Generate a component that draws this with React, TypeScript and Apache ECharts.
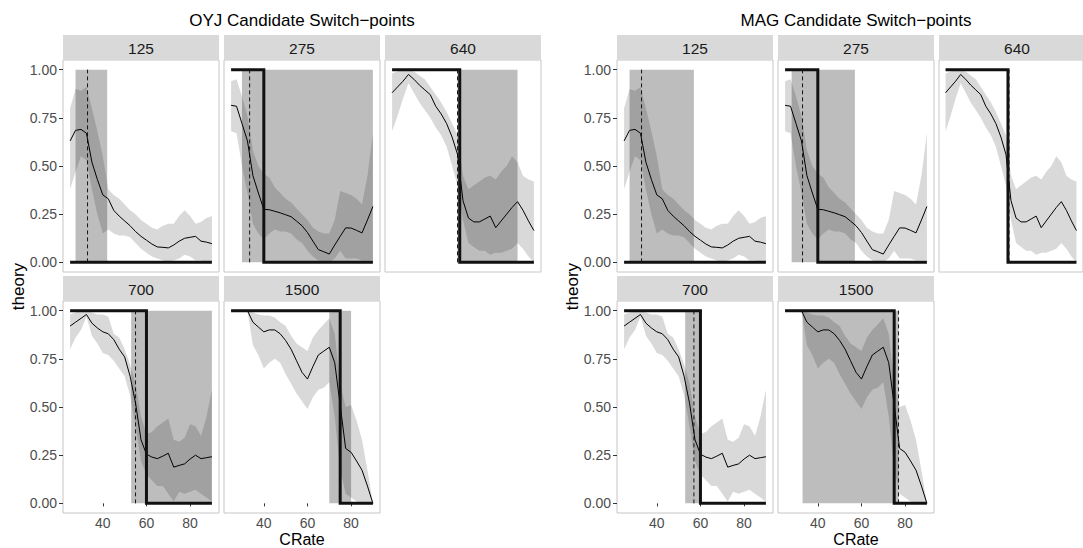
import React, { useEffect, useRef } from "react";
import * as echarts from "echarts";

// ---------- data ----------
const crate = [25, 27.5, 30, 32.5, 35, 37.5, 40, 42.5, 45, 47.5, 50, 52.5, 55, 57.5, 60, 62.5, 65, 67.5, 70, 72.5, 75, 77.5, 80, 82.5, 85, 87.5, 90];
const panelNames = ["125", "275", "640", "700", "1500"];
const yTickValues = [0, 0.25, 0.5, 0.75, 1];
const xTickValues = [40, 60, 80];

const theory125 = [0.63, 0.685, 0.69, 0.67, 0.52, 0.43, 0.35, 0.33, 0.27, 0.24, 0.215, 0.19, 0.16, 0.135, 0.115, 0.095, 0.08, 0.078, 0.075, 0.09, 0.11, 0.125, 0.13, 0.135, 0.11, 0.105, 0.097];
const lower125 = [0.38, 0.47, 0.55, 0.53, 0.38, 0.25, 0.15, 0.17, 0.15, 0.14, 0.14, 0.13, 0.1, 0.07, 0.05, 0.03, 0.02, 0.01, 0.0, 0.01, 0.02, 0.04, 0.03, 0.01, 0.01, 0.0, 0.0];
const upper125 = [0.8, 0.9, 0.89, 0.91, 0.8, 0.68, 0.55, 0.38, 0.35, 0.33, 0.3, 0.27, 0.25, 0.22, 0.2, 0.18, 0.17, 0.19, 0.2, 0.2, 0.24, 0.27, 0.24, 0.2, 0.21, 0.23, 0.24];

const theory275 = [0.815, 0.81, 0.72, 0.63, 0.45, 0.36, 0.275, 0.273, 0.265, 0.257, 0.247, 0.237, 0.214, 0.19, 0.155, 0.11, 0.066, 0.055, 0.043, 0.09, 0.135, 0.179, 0.178, 0.166, 0.153, 0.22, 0.29];
const lower275 = [0.68, 0.67, 0.5, 0.36, 0.2, 0.15, 0.12, 0.15, 0.17, 0.16, 0.16, 0.15, 0.12, 0.1, 0.06, 0.03, 0.01, 0.0, 0.0, 0.02, 0.06, 0.02, 0.02, 0.02, 0.01, 0.01, 0.01];
const upper275 = [0.94, 0.95, 0.86, 0.76, 0.58, 0.5, 0.46, 0.44, 0.39, 0.36, 0.33, 0.31, 0.28, 0.25, 0.22, 0.18, 0.16, 0.15, 0.15, 0.22, 0.37, 0.36, 0.35, 0.33, 0.3, 0.45, 0.67];

const theory640 = [0.88, 0.91, 0.94, 0.975, 0.95, 0.92, 0.895, 0.87, 0.81, 0.77, 0.72, 0.65, 0.56, 0.32, 0.23, 0.21, 0.21, 0.225, 0.24, 0.18, 0.215, 0.25, 0.285, 0.315, 0.27, 0.215, 0.165];
const lower640 = [0.68, 0.76, 0.85, 0.93, 0.88, 0.83, 0.79, 0.75, 0.7, 0.66, 0.6, 0.5, 0.4, 0.22, 0.1, 0.08, 0.06, 0.06, 0.04, 0.05, 0.05, 0.06, 0.07, 0.1, 0.07, 0.03, 0.0];
const upper640 = [0.98, 0.99, 1.0, 1.0, 0.99, 0.97, 0.95, 0.91, 0.87, 0.83, 0.78, 0.72, 0.66, 0.45, 0.38, 0.4, 0.42, 0.44, 0.45, 0.43, 0.47, 0.5, 0.55, 0.52, 0.45, 0.43, 0.42];

const theory700 = [0.92, 0.94, 0.96, 0.98, 0.935, 0.91, 0.89, 0.88, 0.85, 0.8, 0.76, 0.66, 0.52, 0.33, 0.255, 0.24, 0.232, 0.245, 0.26, 0.188, 0.197, 0.205, 0.23, 0.25, 0.232, 0.237, 0.242];
const lower700 = [0.8, 0.86, 0.9, 0.97, 0.87, 0.83, 0.78, 0.77, 0.74, 0.7, 0.66, 0.56, 0.4, 0.22, 0.15, 0.12, 0.09, 0.09, 0.05, 0.01, 0.06, 0.05, 0.06, 0.07, 0.05, 0.03, 0.01];
const upper700 = [0.98, 0.99, 1.0, 1.0, 0.99, 0.98, 0.98, 0.97, 0.88, 0.86, 0.8, 0.72, 0.62, 0.45, 0.36, 0.37, 0.4, 0.42, 0.44, 0.33, 0.32, 0.34, 0.41, 0.4, 0.35, 0.45, 0.59];

const theory1500 = [1, 1, 1, 1, 0.94, 0.915, 0.89, 0.9, 0.9, 0.88, 0.845, 0.8, 0.74, 0.68, 0.645, 0.71, 0.77, 0.79, 0.81, 0.73, 0.51, 0.285, 0.265, 0.22, 0.172, 0.09, 0.0];
const lower1500 = [1, 1, 1, 1, 0.82, 0.77, 0.7, 0.73, 0.75, 0.73, 0.67, 0.62, 0.57, 0.53, 0.49, 0.55, 0.59, 0.6, 0.63, 0.45, 0.18, 0.05, 0.03, 0.01, 0.0, 0.0, 0.0];
const upper1500 = [1, 1, 1, 1, 0.99, 0.98, 0.975, 0.975, 0.965, 0.94, 0.92, 0.87, 0.83, 0.81, 0.79, 0.86, 0.9, 0.93, 0.96, 0.88, 0.62, 0.5, 0.51, 0.43, 0.33, 0.17, 0.0];

const theoryByPanel = [theory125, theory275, theory640, theory700, theory1500];
const lowerByPanel = [lower125, lower275, lower640, lower700, lower1500];
const upperByPanel = [upper125, upper275, upper640, upper700, upper1500];

// OYJ candidate switch-points
const oyjRectStart = [27.5, 30, 55, 53, 70];
const oyjRectEnd = [42, 90, 82.5, 90, 80];
const oyjDashed = [33, 33.5, 55, 55, 75];
const oyjSwitch = [null, 40, 56, 60, 75];

// MAG candidate switch-points
const magRectStart = [27.5, 28, 55.5, 53, 33];
const magRectEnd = [57, 57, 56.5, 60, 77];
const magDashed = [33, 33, 56.5, 57, 77];
const magSwitch = [null, 40, 56, 60, 75];

// ---------- layout ----------
const FONT = '"Liberation Sans", Arial, Helvetica, sans-serif';
const PW = 156;
const PH = 212;
const ROW_TOP = [60, 301];
const STRIP_H = 25;

const plots = [
  { title: "OYJ Candidate Switch\u2212points", lefts: [63, 224, 385], rectStart: oyjRectStart, rectEnd: oyjRectEnd, dashed: oyjDashed, sw: oyjSwitch },
  { title: "MAG Candidate Switch\u2212points", lefts: [617, 778, 939], rectStart: magRectStart, rectEnd: magRectEnd, dashed: magDashed, sw: magSwitch },
];

const centerText = (fill: string, font: string) => ({
  fill, font, align: "center", verticalAlign: "middle", textAlign: "center", textVerticalAlign: "middle",
});

function buildOption() {
  const grid: any[] = [];
  const xAxis: any[] = [];
  const yAxis: any[] = [];
  const series: any[] = [];
  const graphic: any[] = [];

  plots.forEach((plot, p) => {
    const plotLeft = plot.lefts[0];
    const plotRight = plot.lefts[2] + PW;
    const center = (plotLeft + plotRight) / 2;
    graphic.push({
      type: "text", x: center, y: 20, silent: true,
      style: { text: plot.title, ...centerText("#000", `17px ${FONT}`) },
    });
    graphic.push({
      type: "text", x: plotLeft - 45, y: (ROW_TOP[0] + ROW_TOP[1] + PH) / 2, rotation: Math.PI / 2, silent: true,
      style: { text: "theory", ...centerText("#000", `17px ${FONT}`) },
    });
    graphic.push({
      type: "text", x: center, y: 539.5, silent: true,
      style: { text: "CRate", ...centerText("#000", `16px ${FONT}`) },
    });

    panelNames.forEach((name, k) => {
      const gi = p * 5 + k;
      const row = k < 3 ? 0 : 1;
      const col = k < 3 ? k : k - 3;
      const left = plot.lefts[col];
      const top = ROW_TOP[row];

      graphic.push({
        type: "rect", silent: true,
        shape: { x: left, y: top - STRIP_H, width: PW, height: STRIP_H },
        style: { fill: "#d9d9d9" },
      });
      graphic.push({
        type: "text", x: left + PW / 2, y: top - STRIP_H / 2 + 0.5, silent: true,
        style: { text: name, ...centerText("#1a1a1a", `15.5px ${FONT}`) },
      });

      grid.push({
        left, top, width: PW, height: PH, show: true,
        backgroundColor: "#ffffff", borderColor: "#c6c6c6", borderWidth: 1,
      });
      xAxis.push({
        type: "value", gridIndex: gi, min: 21.75, max: 93.25,
        axisLine: { show: false }, splitLine: { show: false },
        axisTick: { show: row === 1, customValues: xTickValues, length: 3, lineStyle: { color: "#333" } },
        axisLabel: {
          show: row === 1, customValues: xTickValues, color: "#4d4d4d", fontSize: 14, fontFamily: FONT, margin: 3,
          hideOverlap: false, showMinLabel: true, showMaxLabel: true,
        },
      });
      yAxis.push({
        type: "value", gridIndex: gi, min: -0.05, max: 1.05,
        axisLine: { show: false }, splitLine: { show: false },
        axisTick: { show: col === 0, customValues: yTickValues, length: 4, lineStyle: { color: "#333" } },
        axisLabel: {
          show: col === 0, customValues: yTickValues, color: "#4d4d4d", fontSize: 14, fontFamily: FONT, margin: 6,
          formatter: (v: number) => v.toFixed(2),
        },
      });

      const lo = lowerByPanel[k];
      const hi = upperByPanel[k];
      const th = theoryByPanel[k];

      // ribbon
      series.push({
        type: "custom", xAxisIndex: gi, yAxisIndex: gi, z: 1, silent: true,
        data: crate.map((x, i) => [x, lo[i], hi[i]]),
        encode: { x: 0, y: [1, 2] },
        renderItem: (params: any, api: any) => {
          if (params.dataIndex !== 0) return null;
          const pts: number[][] = [];
          for (let i = 0; i < crate.length; i++) pts.push(api.coord([crate[i], hi[i]]));
          for (let i = crate.length - 1; i >= 0; i--) pts.push(api.coord([crate[i], lo[i]]));
          return { type: "polygon", shape: { points: pts }, style: { fill: "#d9d9d9" } };
        },
      });

      // candidate interval rectangle
      series.push({
        type: "custom", xAxisIndex: gi, yAxisIndex: gi, z: 2, silent: true,
        data: [[plot.rectStart[k], plot.rectEnd[k]]],
        renderItem: (params: any, api: any) => {
          const a = api.coord([api.value(0), 1]);
          const b = api.coord([api.value(1), 0]);
          return {
            type: "rect",
            shape: { x: a[0], y: a[1], width: b[0] - a[0], height: b[1] - a[1] },
            style: { fill: "rgba(0,0,0,0.26)" },
          };
        },
      });

      // theory line
      series.push({
        type: "line", xAxisIndex: gi, yAxisIndex: gi, z: 3, silent: true,
        data: crate.map((x, i) => [x, th[i]]),
        symbol: "none", lineStyle: { color: "#000", width: 1 },
      });

      // dashed switch-point estimate
      series.push({
        type: "custom", xAxisIndex: gi, yAxisIndex: gi, z: 4, silent: true,
        data: [[plot.dashed[k], 0]],
        renderItem: (params: any, api: any) => {
          const a = api.coord([api.value(0), 0]);
          const b = api.coord([api.value(0), 1]);
          return {
            type: "line",
            shape: { x1: a[0], y1: a[1], x2: b[0], y2: b[1] },
            style: { stroke: "#000", lineWidth: 0.9, lineDash: [4, 3] },
          };
        },
      });

      // step function
      const s = plot.sw[k];
      const stepData = s == null
        ? [[crate[0], 0], [crate[crate.length - 1], 0]]
        : [[crate[0], 1], [s, 1], [s, 0], [crate[crate.length - 1], 0]];
      series.push({
        type: "line", xAxisIndex: gi, yAxisIndex: gi, z: 5, silent: true,
        data: stepData, symbol: "none",
        lineStyle: { color: "#111", width: 3, join: "miter", cap: "butt" },
      });
    });
  });

  return {
    animation: false,
    backgroundColor: "#ffffff",
    grid, xAxis, yAxis, series, graphic,
  };
}

export default function App() {
  const ref = useRef<HTMLDivElement>(null);
  useEffect(() => {
    document.body.style.margin = "0";
    const chart = echarts.init(ref.current!, undefined, { renderer: "svg" });
    chart.setOption(buildOption() as any);
    return () => chart.dispose();
  }, []);
  return (
    <div
      ref={ref}
      style={{ position: "fixed", left: 0, top: 0, width: 1083, height: 548, overflow: "hidden", background: "#fff" }}
    />
  );
}
